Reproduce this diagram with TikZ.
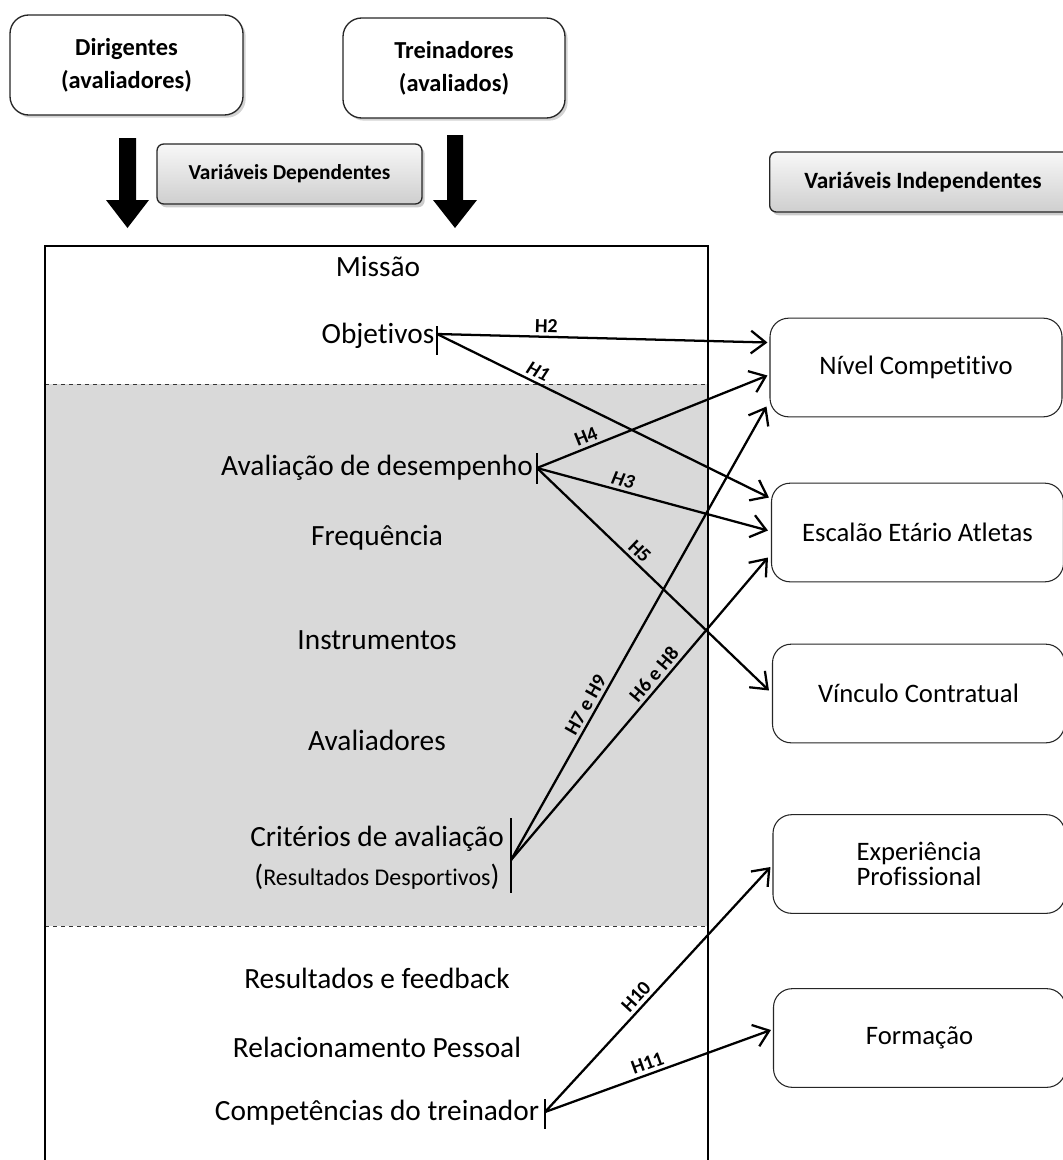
\documentclass[tikz,border=0pt]{standalone}
\usepackage{fontspec}
\setmainfont{Carlito}[Ligatures=NoCommon]
\usetikzlibrary{arrows.meta,shadows,calc}
\definecolor{panelgray}{HTML}{D9D9D9}
\begin{document}
\begin{tikzpicture}[x=0.75pt,y=-0.75pt,
  topbox/.style={draw=black!85, line width=1pt, rounded corners=14pt, fill=white, align=center,
    font=\bfseries\fontsize{18.3}{25}\selectfont,
    drop shadow={shadow xshift=2pt,shadow yshift=-2pt,opacity=0.35}},
  varbox/.style={draw=black!85, line width=1pt, rounded corners=5pt, top color=gray!6, bottom color=gray!38,
    font=\bfseries\fontsize{16}{18}\selectfont,
    drop shadow={shadow xshift=2pt,shadow yshift=-2.5pt,opacity=0.4}},
  ibox/.style={draw=black!85, line width=0.8pt, rounded corners=14pt, fill=white, align=center,
    minimum width=219pt, minimum height=74pt, font=\fontsize{20}{19}\selectfont},
  item/.style={font=\fontsize{22}{26}\selectfont, inner sep=0pt},
  conn/.style={line width=1.7pt, -{Straight Barb[length=11pt,width=17pt,line width=1.7pt]}},
  hlab/.style={font=\bfseries\fontsize{15}{17}\selectfont, sloped, above, inner sep=2.5pt},
  bar/.style={line width=1.3pt},
  bigarrow/.style={fill=black}
]
\useasboundingbox (0,0) rectangle (1063,1160);

% panel
\fill[panelgray] (45,384) rectangle (708,926);
\draw[dashed, line width=0.6pt, black!80] (45,384) -- (708,384);
\draw[dashed, line width=0.6pt, black!80] (45,926) -- (708,926);
\draw[line width=1.6pt] (45,1175) -- (45,246) -- (708,246) -- (708,1175);

% top boxes
\node[topbox, minimum width=174.75pt, minimum height=75pt] (dir) at (126.5,65) {Dirigentes\\(avaliadores)};
\node[topbox, minimum width=166.5pt, minimum height=75pt] (tre) at (454,68) {Treinadores\\(avaliados)};
\node[varbox, minimum width=198.75pt, minimum height=45pt] (vdep) at (289.5,174) {Variáveis Dependentes};
\node[varbox, minimum width=230pt, minimum height=45pt, font=\bfseries\fontsize{17.5}{20}\selectfont] (vind) at (923,182) {Variáveis Independentes};

% big arrows
\fill[bigarrow] (119,138) -- (136,138) -- (136,200) -- (149,200) -- (127.5,228) -- (106,200) -- (119,200) -- cycle;
\fill[bigarrow] (447,135) -- (463,135) -- (463,200) -- (477,200) -- (455,228) -- (433,200) -- (447,200) -- cycle;

% items
\node[item] (mis) at (378,267) {Missão};
\node[item] (obj) at (378,336) {Objetivos};
\node[item] (ava) at (377,468) {Avaliação de desempenho};
\node[item] (fre) at (377,538) {Frequência};
\node[item] (ins) at (377,640) {Instrumentos};
\node[item] (avd) at (377,740) {Avaliadores};
\node[item] (cri) at (377,839) {Critérios de avaliação};
\node[item] (res) at (377,877) {(\fontsize{18}{22}\selectfont Resultados Desportivos\fontsize{22}{26}\selectfont)};
\node[item] (rfb) at (377,978) {Resultados e feedback};
\node[item] (rel) at (377,1047) {Relacionamento Pessoal};
\node[item] (com) at (377,1113) {Competências do treinador};

% bars and origins
\draw[bar] (437,326) -- (437,355);
\draw[bar] (537,453) -- (537,484);
\draw[bar] (511,818) -- (511,893);
\draw[bar] (545,1099) -- (545,1129);
\coordinate (cObj) at (437,334);
\coordinate (cAva) at (537,468);
\coordinate (cCri) at (511,860);
\coordinate (cCom) at (545,1112);

% right boxes
\node[ibox] (niv) at (916,367.5) {Nível Competitivo};
\node[ibox] (esc) at (917.5,532.5) {Escalão Etário Atletas};
\node[ibox] (vin) at (918.5,693.5) {Vínculo Contratual};
\node[ibox] (exp) at (919,864) {Experiência\\Profissional};
\node[ibox] (for) at (919.5,1038) {Formação};

% tips
\coordinate (tH2) at ($(niv.west)+(-2,-25)$);
\coordinate (tH4) at ($(niv.west)+(-2,8)$);
\coordinate (tH79) at ($(niv.west)+(-3,39)$);
\coordinate (tH1) at ($(esc.west)+(-2,-35)$);
\coordinate (tH3) at ($(esc.west)+(-3,-2)$);
\coordinate (tH68) at ($(esc.west)+(-3,25)$);
\coordinate (tH5) at ($(vin.west)+(-3,-3)$);
\coordinate (tH10) at ($(exp.west)+(-2,3)$);
\coordinate (tH11) at ($(for.west)+(-2,-8)$);

% connectors
\draw[conn] (cObj) -- node[hlab,pos=0.33]{H2} (tH2);
\draw[conn] (cObj) -- node[hlab,pos=0.29]{\itshape H1} (tH1);
\draw[conn] (cAva) -- node[hlab,pos=0.23]{H4} (tH4);
\draw[conn] (cAva) -- node[hlab,pos=0.36]{\itshape H3} (tH3);
\draw[conn] (cAva) -- node[hlab,pos=0.41]{H5} (tH5);
\draw[conn] (cCri) -- node[hlab,pos=0.33]{H7 e H9} (tH79);
\draw[conn] (cCri) -- node[hlab,pos=0.59]{H6 e H8} (tH68);
\draw[conn] (cCom) -- node[hlab,pos=0.44]{H10} (tH10);
\draw[conn] (cCom) -- node[hlab,pos=0.47]{H11} (tH11);
\end{tikzpicture}
\end{document}
